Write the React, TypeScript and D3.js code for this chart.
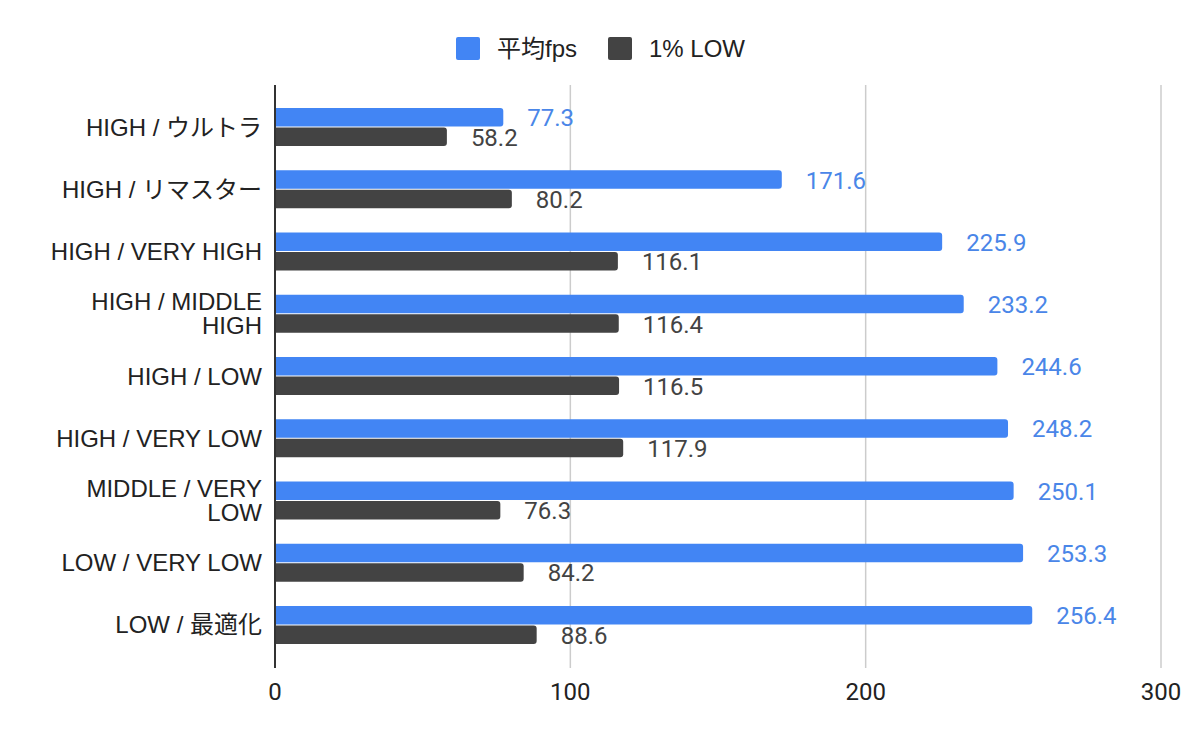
import React from "react";
import * as d3 from "d3";

const categories: string[][] = [
  ["HIGH / ウルトラ"],
  ["HIGH / リマスター"],
  ["HIGH / VERY HIGH"],
  ["HIGH / MIDDLE", "HIGH"],
  ["HIGH / LOW"],
  ["HIGH / VERY LOW"],
  ["MIDDLE / VERY", "LOW"],
  ["LOW / VERY LOW"],
  ["LOW / 最適化"],
];
const avgFps = [77.3, 171.6, 225.9, 233.2, 244.6, 248.2, 250.1, 253.3, 256.4];
const lowFps = [58.2, 80.2, 116.1, 116.4, 116.5, 117.9, 76.3, 84.2, 88.6];
const seriesNames = ["平均fps", "1% LOW"];
const seriesColors = ["#4285F4", "#434343"];
const labelColors = ["#4a86e8", "#434343"];
const xTicks = [0, 100, 200, 300];

const W = 1200;
const H = 742;
const plotLeft = 275;
const plotRight = 1161;
const plotTop = 85;
const plotBottom = 668;

function barPath(x0: number, x1: number, y: number, h: number, r: number) {
  const rr = Math.min(r, (x1 - x0) / 2, h / 2);
  return `M${x0},${y}H${x1 - rr}A${rr},${rr} 0 0 1 ${x1},${y + rr}V${y + h - rr}A${rr},${rr} 0 0 1 ${x1 - rr},${y + h}H${x0}Z`;
}

export default function App() {
  const x = d3.scaleLinear().domain([0, 300]).range([plotLeft, plotRight]);
  const idx = categories.map((_, i) => String(i));
  const y = d3.scaleBand().domain(idx).range([96, 656]).paddingInner(0).paddingOuter(0);
  const step = y.step();
  const groupH = 38;
  const inner = d3.scaleBand().domain(["0", "1"]).range([0, groupH]).paddingInner(0.05);
  const series = [avgFps, lowFps];
  const catFont = "'Liberation Sans', Arial, 'Noto Sans CJK JP', sans-serif";
  const numFont = "Roboto, 'Noto Sans', sans-serif";
  const fs = 24;

  return (
    <svg width={W} height={H} style={{ display: "block", position: "absolute", left: 0, top: 0, background: "#fff" }}>
      <rect x={0} y={0} width={W} height={H} fill="#fff" />
      {/* legend */}
      <g>
        <rect x={456} y={37} width={24} height={23} rx={2} fill={seriesColors[0]} />
        <text x={497} y={48.5} dominantBaseline="central" fontSize={fs} fill="#222" fontFamily={catFont}>{seriesNames[0]}</text>
        <rect x={608} y={37} width={24} height={23} rx={2} fill={seriesColors[1]} />
        <text x={649} y={48.5} dominantBaseline="central" fontSize={fs} fill="#222" fontFamily={catFont}>{seriesNames[1]}</text>
      </g>
      {/* gridlines */}
      {xTicks.slice(1).map((t) => (
        <line key={t} x1={x(t)} x2={x(t)} y1={plotTop} y2={plotBottom} stroke="#cccccc" strokeWidth={1.5} />
      ))}
      {/* bars */}
      {categories.map((c, i) => {
        const gy = (y(String(i)) as number) + (step - groupH) / 2;
        return (
          <g key={i}>
            {series.map((s, k) => {
              const by = gy + (inner(String(k)) as number);
              const bh = inner.bandwidth();
              return (
                <g key={k}>
                  <path d={barPath(x(0), x(s[i]), by, bh, 3)} fill={seriesColors[k]} />
                  <text x={x(s[i]) + 24} y={by + bh / 2 + 1} dominantBaseline="central" fontSize={fs} fill={labelColors[k]} fontFamily={numFont}>
                    {s[i].toFixed(1)}
                  </text>
                </g>
              );
            })}
          </g>
        );
      })}
      {/* axis line */}
      <line x1={x(0)} x2={x(0)} y1={plotTop} y2={plotBottom} stroke="#333" strokeWidth={2} />
      {/* category labels */}
      {categories.map((c, i) => {
        const cy = (y(String(i)) as number) + step / 2;
        const lh = 24;
        return (
          <text key={i} x={262} textAnchor="end" fontSize={fs} fill="#222" fontFamily={catFont}>
            {c.map((line, j) => (
              <tspan key={j} x={262} y={cy + (j - (c.length - 1) / 2) * lh} dominantBaseline="central">{line}</tspan>
            ))}
          </text>
        );
      })}
      {/* x tick labels */}
      {xTicks.map((t) => (
        <text key={t} x={x(t)} y={692} textAnchor="middle" dominantBaseline="central" fontSize={fs} fill="#222" fontFamily={numFont}>
          {t}
        </text>
      ))}
    </svg>
  );
}
